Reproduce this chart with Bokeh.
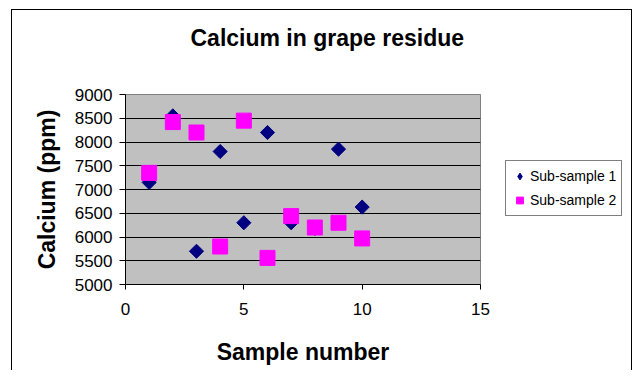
import numpy as np
from bokeh.plotting import figure
from bokeh.layouts import row
from bokeh.models import Range1d, FixedTicker, Legend, LegendItem, Title
from bokeh.embed import file_html
from bokeh.resources import INLINE

# ---- data ----
sample = [1, 2, 3, 4, 5, 6, 7, 8, 9, 10]
sub_sample_1 = [7150, 8550, 5700, 7800, 6300, 8200, 6300, 6180, 7850, 6630]
sub_sample_2 = [7350, 8420, 8200, 5800, 8450, 5560, 6440, 6200, 6300, 5970]
x_ticks = [0, 5, 10, 15]
y_ticks = [5000, 5500, 6000, 6500, 7000, 7500, 8000, 8500, 9000]
title_text = "Calcium in grape residue"
x_label = "Sample number"
y_label = "Calcium (ppm)"
series_names = ["Sub-sample 1", "Sub-sample 2"]

FONT = "Liberation Sans"
NAVY = "#000080"
MAGENTA = "#FF00FF"

# ---------------- main chart ----------------
p = figure(width=480, height=360, output_backend="svg", toolbar_location=None,
           x_range=Range1d(0, 15), y_range=Range1d(5000, 9000),
           min_border_left=113, min_border_right=12,
           min_border_top=84, min_border_bottom=86)

p.background_fill_color = "#C0C0C0"
p.border_fill_color = "white"
p.outline_line_color = "#808080"
p.outline_line_width = 1

# title (spacer first: panels stack outward from the frame)
p.add_layout(Title(text=" ", text_font_size="1px", standoff=41), "above")
p.add_layout(Title(text=title_text, align="left", offset=65, standoff=0,
                   vertical_align="bottom", text_font=FONT,
                   text_font_size="23px", text_font_style="bold",
                   text_color="black"), "above")

# grid
p.xgrid.grid_line_color = None
p.ygrid.grid_line_color = "black"
p.ygrid.grid_line_width = 1
p.ygrid.ticker = FixedTicker(ticks=y_ticks)

# axes
for ax in (p.xaxis[0], p.yaxis[0]):
    ax.axis_line_color = "black"
    ax.axis_line_width = 1
    ax.major_tick_line_color = "black"
    ax.major_tick_in = 0
    ax.minor_tick_line_color = None
    ax.major_label_text_font = FONT
    ax.major_label_text_font_size = "17px"
    ax.major_label_text_color = "black"
    ax.axis_label_text_font = FONT
    ax.axis_label_text_font_size = "23px"
    ax.axis_label_text_font_style = "bold"
    ax.axis_label_text_color = "black"

p.xaxis.ticker = FixedTicker(ticks=x_ticks)
p.yaxis.ticker = FixedTicker(ticks=y_ticks)
p.xaxis.major_tick_out = 5
p.yaxis.major_tick_out = 6
p.xaxis.major_label_standoff = 13
p.yaxis.major_label_standoff = 7
p.xaxis.axis_label = x_label
p.yaxis.axis_label = y_label
p.xaxis.axis_label_standoff = 21
p.yaxis.axis_label_standoff = 12

# markers
p.scatter(sample, sub_sample_1, marker="square", angle=np.pi / 4, size=10,
          fill_color=NAVY, line_color=NAVY)
p.scatter(sample, sub_sample_2, marker="square", size=15,
          fill_color=MAGENTA, line_color=MAGENTA)

# ---------------- legend panel ----------------
q = figure(width=139, height=360, output_backend="svg", toolbar_location=None,
           x_range=Range1d(0, 1), y_range=Range1d(0, 1),
           min_border=0, x_axis_type=None, y_axis_type=None)
q.outline_line_color = None
q.background_fill_color = "white"
q.border_fill_color = "white"
q.xgrid.visible = False
q.ygrid.visible = False
k1 = q.scatter(sample, sub_sample_1, marker="diamond", size=10,
               fill_color=NAVY, line_color=NAVY, visible=False)
k2 = q.scatter(sample, sub_sample_2, marker="square", size=15,
               fill_color=MAGENTA, line_color=MAGENTA, visible=False)
legend = Legend(items=[LegendItem(label=series_names[0], renderers=[k1]),
                       LegendItem(label=series_names[1], renderers=[k2])],
                location=(13, 68), orientation="vertical",
                border_line_color="black", border_line_width=1,
                background_fill_color="white", background_fill_alpha=1,
                label_text_font=FONT, label_text_font_size="14px",
                label_text_color="black",
                padding=5, spacing=4, margin=0,
                label_height=20, glyph_height=20, glyph_width=17,
                label_standoff=2)
q.add_layout(legend, "center")

lay = row(p, q)
lay.styles = {"margin-left": "11px", "margin-top": "9px",
              "border-left": "1px solid black", "border-top": "1px solid black",
              "border-right": "1px solid black"}

open("out.html", "w").write(file_html(lay, INLINE))
